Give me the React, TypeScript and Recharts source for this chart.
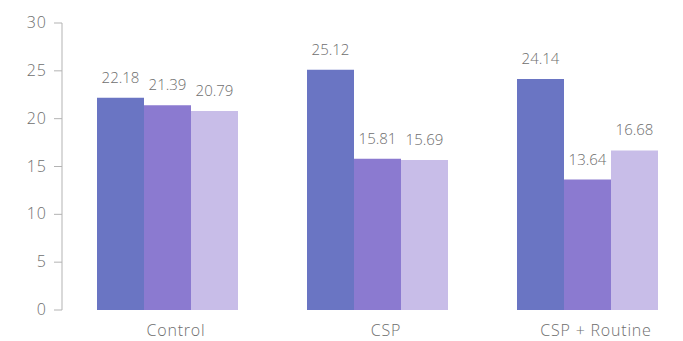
import React from 'react';
import { BarChart, Bar, XAxis, YAxis, LabelList } from 'recharts';

const categories = ['Control', 'CSP', 'CSP + Routine'];
const seriesA = [22.18, 25.12, 24.14];
const seriesB = [21.39, 15.81, 13.64];
const seriesC = [20.79, 15.69, 16.68];
const yTicks = [0, 5, 10, 15, 20, 25, 30];
const boundaryTicks = [0, 1, 2, 3];

const data = categories.map((name, i) => ({
  name,
  idx: i + 0.5,
  a: seriesA[i],
  b: seriesB[i],
  c: seriesC[i],
}));

const FONT = '"Open Sans", sans-serif';
const TEXT = '#6e6e6e';
const AXIS = '#b3b3b3';

const CatTick = (props: any) => {
  const { x, y, payload } = props;
  return (
    <text x={x + 9} y={y} dy={26} textAnchor="middle" fill={TEXT} fontSize={16} fontWeight={300} letterSpacing={0.8} fontFamily={FONT}>
      {payload.value}
    </text>
  );
};

const YTick = (props: any) => {
  const { x, y, payload } = props;
  return (
    <text x={x} y={y} dy={5} textAnchor="end" fill={TEXT} fontSize={16} fontWeight={300} letterSpacing={1} fontFamily={FONT}>
      {payload.value}
    </text>
  );
};

export default function App() {
  return (
    <div style={{ position: 'absolute', left: 0, top: 0, width: 683, height: 341, overflow: 'hidden', background: '#fff' }}>
      <BarChart
        width={700}
        height={341}
        data={data}
        margin={{ top: 23, right: 8, bottom: 0, left: 0 }}
        barCategoryGap={35}
        barGap={0}
      >
        <XAxis
          xAxisId="cat"
          dataKey="name"
          type="category"
          axisLine={false}
          tickLine={false}
          tickSize={0}
          tickMargin={0}
          tick={<CatTick />}
          height={31}
          interval={0}
        />
        <XAxis
          xAxisId="num"
          dataKey="idx"
          type="number"
          domain={[0, 3]}
          ticks={boundaryTicks}
          axisLine={{ stroke: AXIS }}
          tickLine={{ stroke: AXIS }}
          tickSize={5}
          tickFormatter={() => ''}
          height={0}
        />
        <YAxis
          width={62}
          domain={[0, 30]}
          ticks={yTicks}
          interval={0}
          axisLine={{ stroke: AXIS }}
          tickLine={{ stroke: AXIS }}
          tickSize={8}
          tickMargin={7}
          tick={<YTick />}
        />
        <Bar xAxisId="cat" dataKey="a" fill="#6a75c3" isAnimationActive={false}>
          <LabelList dataKey="a" position="top" offset={15} fill={TEXT} fontSize={15} fontWeight={300} fontFamily={FONT} />
        </Bar>
        <Bar xAxisId="cat" dataKey="b" fill="#8b7ad0" isAnimationActive={false}>
          <LabelList dataKey="b" position="top" offset={15} fill={TEXT} fontSize={15} fontWeight={300} fontFamily={FONT} />
        </Bar>
        <Bar xAxisId="cat" dataKey="c" fill="#c8bde8" isAnimationActive={false}>
          <LabelList dataKey="c" position="top" offset={15} fill={TEXT} fontSize={15} fontWeight={300} fontFamily={FONT} />
        </Bar>
      </BarChart>
    </div>
  );
}
